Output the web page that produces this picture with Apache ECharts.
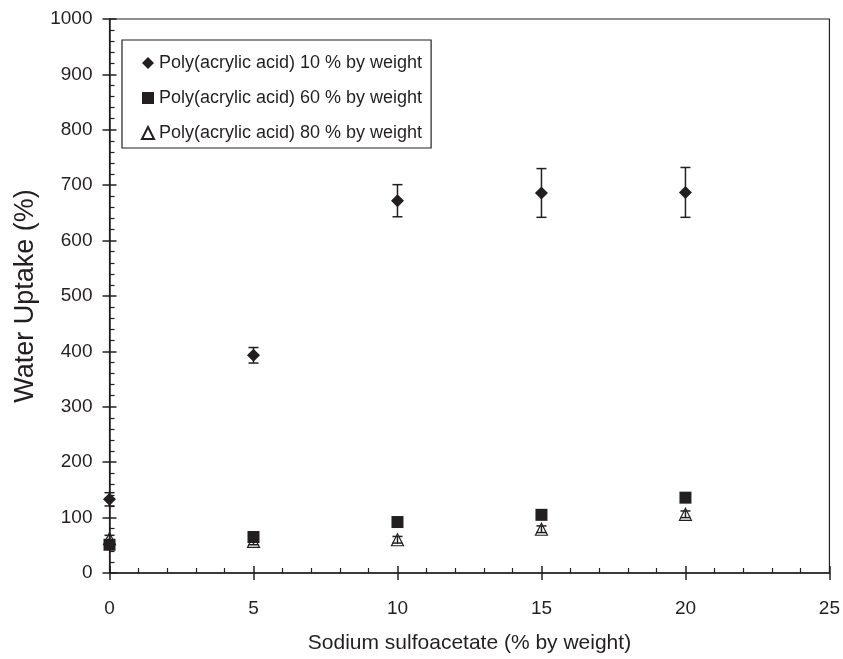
<!DOCTYPE html>
<html>
<head>
<meta charset="utf-8">
<script src="https://cdn.jsdelivr.net/npm/echarts@6/dist/echarts.min.js"></script>
<style>
  html, body { margin: 0; padding: 0; background: #fff; }
  #chart { width: 843px; height: 659px; }
</style>
</head>
<body>
<div id="chart"></div>
<script>
var xVals = [0, 5, 10, 15, 20];
var paa10 = [133, 393, 672, 686, 687];
var paa10Err = [12, 14, 29, 44, 45];
var paa60 = [51, 65, 92, 105, 136];
var paa60Err = [4, 4, 4, 4, 4];
var paa80 = [62, 57, 60, 79, 106];
var paa80Err = [6, 6, 6, 6, 6];

var names = [
  'Poly(acrylic acid) 10 % by weight',
  'Poly(acrylic acid) 60 % by weight',
  'Poly(acrylic acid) 80 % by weight'
];
var ink = '#231f20';

function pts(ys) {
  return xVals.map(function (x, i) { return [x, ys[i]]; });
}
function errPts(ys, es) {
  return xVals.map(function (x, i) { return [x, ys[i], es[i]]; });
}

function errorBars(data) {
  return {
    type: 'custom',
    xAxisIndex: 0,
    yAxisIndex: 0,
    silent: true,
    z: 1,
    data: data,
    renderItem: function (params, api) {
      var x = api.value(0), y = api.value(1), e = api.value(2);
      var hi = api.coord([x, y + e]);
      var lo = api.coord([x, y - e]);
      var w = 5;
      var st = { stroke: ink, lineWidth: 1.5 };
      return {
        type: 'group',
        children: [
          { type: 'line', shape: { x1: hi[0], y1: hi[1], x2: lo[0], y2: lo[1] }, style: st },
          { type: 'line', shape: { x1: hi[0] - w, y1: hi[1], x2: hi[0] + w, y2: hi[1] }, style: st },
          { type: 'line', shape: { x1: lo[0] - w, y1: lo[1], x2: lo[0] + w, y2: lo[1] }, style: st }
        ]
      };
    }
  };
}

var myChart = echarts.init(document.getElementById('chart'));
var option = {
  animation: false,
  backgroundColor: '#fff',
  textStyle: { fontFamily: 'Liberation Sans, Arial, sans-serif', color: ink },
  grid: {
    left: 109.5, right: 13, top: 19, bottom: 84,
    show: true, borderColor: ink, borderWidth: 1.2
  },
  legend: {
    orient: 'vertical',
    left: 122, top: 40,
    padding: [14, 9, 6, 19],
    itemGap: 17,
    itemWidth: 12, itemHeight: 12,
    borderColor: ink, borderWidth: 1.2,
    backgroundColor: '#fff',
    textStyle: { fontSize: 18, color: ink, fontFamily: 'Liberation Sans, Arial, sans-serif' },
    data: names
  },
  xAxis: [
    {
      type: 'value', min: 0, max: 25, interval: 5,
      name: 'Sodium sulfoacetate (% by weight)',
      nameLocation: 'middle', nameGap: 60,
      nameTextStyle: { fontSize: 21, color: ink },
      axisLine: { lineStyle: { color: ink, width: 1.5 } },
      axisTick: { inside: false, length: 7, lineStyle: { color: ink, width: 1.5 } },
      axisLabel: { fontSize: 19, color: ink, margin: 26 },
      splitLine: { show: false }
    },
    {
      type: 'value', min: 0, max: 25, interval: 5, position: 'bottom',
      axisLine: { show: false },
      axisTick: { inside: true, length: 7, lineStyle: { color: ink, width: 1.5 } },
      minorTick: { show: true, splitNumber: 5, length: 5, lineStyle: { color: ink, width: 1.2 } },
      axisLabel: { show: false },
      splitLine: { show: false }
    }
  ],
  yAxis: [
    {
      type: 'value', min: 0, max: 1000, interval: 100,
      name: 'Water Uptake (%)',
      nameLocation: 'middle', nameGap: 70,
      nameTextStyle: { fontSize: 27, color: ink },
      axisLine: { lineStyle: { color: ink, width: 1.5 } },
      axisTick: { inside: false, length: 7, lineStyle: { color: ink, width: 1.5 } },
      axisLabel: { fontSize: 19, color: ink, margin: 17, formatter: function (v) { return String(v); } },
      splitLine: { show: false }
    },
    {
      type: 'value', min: 0, max: 1000, interval: 100, position: 'left',
      axisLine: { show: false },
      axisTick: { inside: true, length: 7, lineStyle: { color: ink, width: 1.5 } },
      minorTick: { show: true, splitNumber: 5, length: 5, lineStyle: { color: ink, width: 1.2 } },
      axisLabel: { show: false },
      splitLine: { show: false }
    }
  ],
  series: [
    errorBars(errPts(paa10, paa10Err)),
    errorBars(errPts(paa60, paa60Err)),
    errorBars(errPts(paa80, paa80Err)),
    {
      name: names[0], type: 'scatter', xAxisIndex: 0, yAxisIndex: 0, z: 3,
      symbol: 'diamond', symbolSize: 13,
      itemStyle: { color: ink, opacity: 1 },
      data: pts(paa10)
    },
    {
      name: names[1], type: 'scatter', xAxisIndex: 0, yAxisIndex: 0, z: 3,
      symbol: 'rect', symbolSize: 12,
      itemStyle: { color: ink, opacity: 1 },
      data: pts(paa60)
    },
    {
      name: names[2], type: 'scatter', xAxisIndex: 0, yAxisIndex: 0, z: 4,
      symbol: 'triangle', symbolSize: 12,
      itemStyle: { color: 'rgba(255,255,255,0)', borderColor: ink, borderWidth: 1.2, opacity: 1 },
      data: pts(paa80)
    }
  ]
};
myChart.setOption(option);
</script>
</body>
</html>
